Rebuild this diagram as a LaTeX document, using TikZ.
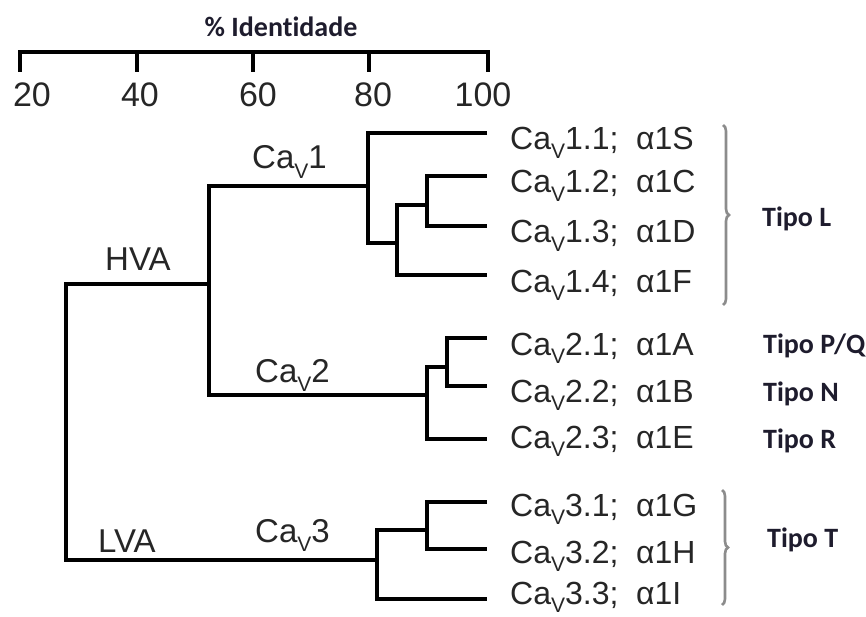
\documentclass[tikz,border=0pt]{standalone}
\usepackage{fontspec}
\setmainfont{Liberation Sans}
\newfontfamily\tipofont[Ligatures=NoCommon]{Carlito}
\usetikzlibrary{decorations.pathreplacing}
\definecolor{txtgray}{HTML}{262626}
\definecolor{bracegray}{HTML}{8C8C8C}
\definecolor{tipocol}{HTML}{1E1C2D}
\newcommand\CaV{Ca\raisebox{-0.28em}{\fontsize{21}{21}\selectfont V}}
\begin{document}
\begin{tikzpicture}[x=1pt,y=-1pt,
  tree/.style={line width=3.2pt, line join=miter},
  axisline/.style={line width=3.2pt},
  leaflbl/.style={anchor=base west, inner sep=0pt, text=txtgray, font=\fontsize{32}{32}\selectfont},
  cladelbl/.style={anchor=base west, inner sep=0pt, text=txtgray, font=\fontsize{33}{33}\selectfont},
  ticklbl/.style={anchor=base, inner sep=0pt, text=txtgray, font=\fontsize{34}{34}\selectfont},
  tipolbl/.style={anchor=base west, inner sep=0pt, text=tipocol, font=\tipofont\bfseries\fontsize{28}{28}\selectfont},
  bracebr/.style={draw=bracegray, line width=2.6pt, decorate, decoration={brace, amplitude=6pt}}]
\useasboundingbox (0,0) rectangle (866,617);

% axis
\coordinate (a20) at (20,52);
\coordinate (a40) at (137,52);
\coordinate (a60) at (253,52);
\coordinate (a80) at (369,52);
\coordinate (a100) at (488,52);
\draw[axisline] ([yshift=-20]a20) -- (a20) -- (a100) -- ([yshift=-20]a100);
\foreach \t in {a40,a60,a80} \draw[axisline] (\t) -- ([yshift=-20]\t);
\node[ticklbl] (t20) at (32,107) {20};
\node[ticklbl] (t40) at (140,107) {40};
\node[ticklbl] (t60) at (258,107) {60};
\node[ticklbl] (t80) at (373,107) {80};
\node[ticklbl] (t100) at (483,107) {100};
\node[anchor=base, inner sep=0pt, text=tipocol, font=\tipofont\bfseries\fontsize{28}{28}\selectfont] (axlbl) at (281,37) {\% Identidade};

% leaves (right ends)
\coordinate (L11) at (487,133);
\coordinate (L12) at (487,176);
\coordinate (L13) at (487,226);
\coordinate (L14) at (487,275);
\coordinate (L21) at (487,338);
\coordinate (L22) at (487,386);
\coordinate (L23) at (487,439);
\coordinate (L31) at (487,502);
\coordinate (L32) at (487,549);
\coordinate (L33) at (487,599);
% internal nodes (x of node, y where parent joins)
\coordinate (R) at (66,420);
\coordinate (H) at (209,284);
\coordinate (C1) at (368,186);
\coordinate (A) at (397,243);
\coordinate (B) at (427,205);
\coordinate (C2) at (427,395);
\coordinate (D) at (447,367);
\coordinate (C3) at (377,560);
\coordinate (E) at (427,530);

\draw[tree] (B) |- (L12);
\draw[tree] (B) |- (L13);
\draw[tree] (B) -| (A) |- (L14);
\draw[tree] (L11) -| (C1) |- (A);
\draw[tree] (L21) -| (D) |- (L22);
\draw[tree] (D) -| (C2) |- (L23);
\draw[tree] (C1) -| (H) |- (C2);
\draw[tree] (L31) -| (E) |- (L32);
\draw[tree] (E) -| (C3) |- (L33);
\draw[tree] (H) -| (R) |- (C3);

% clade labels
\node[cladelbl] (hva) at (105,271) {HVA};
\node[cladelbl] (lva) at (98,552) {LVA};
\node[cladelbl] (cav1) at (252,169) {\CaV1};
\node[cladelbl] (cav2) at (255,382) {\CaV2};
\node[cladelbl] (cav3) at (255,542) {\CaV3};

% leaf labels
\node[leaflbl] (n11) at (510,150) {\CaV1.1;\hspace{0.55em}α1S};
\node[leaflbl] (n12) at (510,193) {\CaV1.2;\hspace{0.55em}α1C};
\node[leaflbl] (n13) at (510,243) {\CaV1.3;\hspace{0.55em}α1D};
\node[leaflbl] (n14) at (510,292) {\CaV1.4;\hspace{0.55em}α1F};
\node[leaflbl] (n21) at (510,355) {\CaV2.1;\hspace{0.55em}α1A};
\node[leaflbl] (n22) at (510,402) {\CaV2.2;\hspace{0.55em}α1B};
\node[leaflbl] (n23) at (510,448) {\CaV2.3;\hspace{0.55em}α1E};
\node[leaflbl] (n31) at (510,516) {\CaV3.1;\hspace{0.55em}α1G};
\node[leaflbl] (n32) at (510,563) {\CaV3.2;\hspace{0.55em}α1H};
\node[leaflbl] (n33) at (510,604) {\CaV3.3;\hspace{0.55em}α1I};

% brackets
\coordinate (bL1) at (723,125);
\coordinate (bL2) at (723,305);
\coordinate (bT1) at (722,490);
\coordinate (bT2) at (722,605);
\draw[bracebr] (bL1) -- (bL2);
\draw[bracebr] (bT1) -- (bT2);

% tipo labels
\node[tipolbl] (tL) at (762,227) {Tipo L};
\node[tipolbl] (tPQ) at (763,353) {Tipo P/Q};
\node[tipolbl] (tN) at (763,401) {Tipo N};
\node[tipolbl] (tR) at (763,448) {Tipo R};
\node[tipolbl] (tT) at (767,547) {Tipo T};
\end{tikzpicture}
\end{document}
